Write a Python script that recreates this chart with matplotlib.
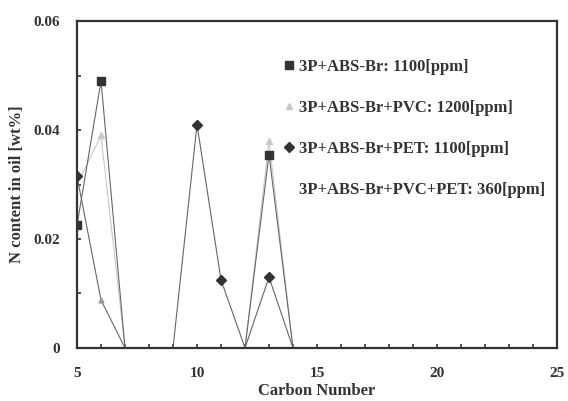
import numpy as np
import matplotlib.pyplot as plt
from matplotlib.lines import Line2D

plt.rcParams['font.family'] = ['Liberation Serif', 'DejaVu Serif']
plt.rcParams['font.weight'] = 'bold'

# carbon numbers and N content [wt%] for each sample
carbon = [5, 6, 7, 8, 9, 10, 11, 12, 13, 14]
abs_br = [0.0225, 0.049, 0.0, np.nan, np.nan, np.nan, np.nan, 0.0, 0.0355, 0.0]
abs_pvc = [0.030, 0.039, 0.0, np.nan, np.nan, np.nan, np.nan, 0.0, 0.038, 0.0]
abs_pet = [0.0315, 0.0088, 0.0, np.nan, 0.0, 0.041, 0.0125, 0.0, 0.013, 0.0]

labels = ["3P+ABS-Br: 1100[ppm]",
          "3P+ABS-Br+PVC: 1200[ppm]",
          "3P+ABS-Br+PET: 1100[ppm]",
          "3P+ABS-Br+PVC+PET: 360[ppm]"]

dark = '#333333'
light = '#c8c8c8'
line = '#666666'

fig = plt.figure(figsize=(5.68, 4.01), dpi=100)
ax = fig.add_axes([0.1356, 0.1322, 0.845, 0.8154])

ax.plot(carbon, abs_pvc, color=light, lw=0.8, marker='^', ms=4,
        mfc=light, mec=light, markevery=[1, 8])
ax.plot(carbon, abs_br, color=line, lw=0.8, marker='s', ms=6,
        mfc=dark, mec=dark, markevery=[0, 1, 8])
ax.plot(carbon, abs_pet, color=line, lw=0.8, marker='D', ms=5,
        mfc=dark, mec=dark, markevery=[0, 5, 6, 8])
# faint point at C6 on the PET trace
ax.plot(carbon[1], abs_pet[1], ls='none', marker='^', ms=3.5, mfc='#999999', mec='#999999')

ax.set_xlim(5, 25)
ax.set_ylim(0, 0.06)
ax.set_xticks([5, 10, 15, 20, 25])
ax.set_xticks(range(5, 26), minor=True)
ax.set_yticks([0, 0.02, 0.04, 0.06])
ax.set_yticklabels(['0', '0.02', '0.04', '0.06'])
ax.set_yticks(np.arange(0, 0.061, 0.01), minor=True)
ax.tick_params(which='both', direction='in', length=3, width=1.2,
               labelsize=11, colors=dark)
ax.tick_params(axis='x', pad=14)
ax.tick_params(axis='y', pad=12)
for s in ax.spines.values():
    s.set_linewidth(1.6)
    s.set_color(dark)

ax.set_xlabel("Carbon Number", fontsize=12, fontweight='bold', color=dark, labelpad=2)
ax.set_ylabel("N content in oil [wt%]", fontsize=12, fontweight='bold', color=dark, labelpad=6)

handles = [Line2D([], [], ls='none', marker='s', ms=6, mfc=dark, mec=dark),
           Line2D([], [], ls='none', marker='^', ms=4, mfc=light, mec=light),
           Line2D([], [], ls='none', marker='D', ms=5, mfc=dark, mec=dark),
           Line2D([], [], ls='none', marker='none')]
leg = ax.legend(handles, labels, loc='upper left', bbox_to_anchor=(0.4, 0.93),
                frameon=False, handlelength=0.6, handletextpad=0.3,
                labelspacing=1.5, fontsize=12)
for t in leg.get_texts():
    t.set_color(dark)

fig.savefig('out.png', dpi=100)
